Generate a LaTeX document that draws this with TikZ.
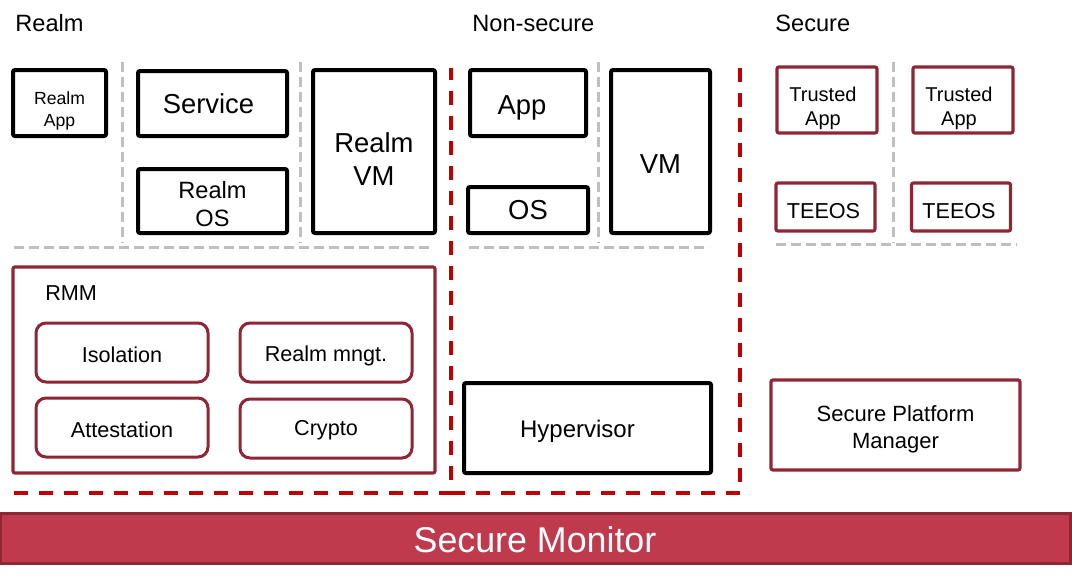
\documentclass[tikz,border=0pt]{standalone}
\usepackage{fontspec}
\setmainfont{Liberation Sans}
\usetikzlibrary{positioning}
\definecolor{boxred}{HTML}{8E2635}
\definecolor{linered}{HTML}{C00000}
\definecolor{barred}{HTML}{BE3A4C}
\definecolor{sepgray}{HTML}{BFBFBF}
\tikzset{
    %Define style for world titles
    worldtitle/.style={
           anchor=west,
           inner sep=0pt,
           font=\fontsize{11.8}{14}\selectfont},
    %Define style for normal world boxes
    blackbox/.style={
           rectangle,
           rounded corners=1pt,
           draw=black, line width=2pt,
           inner sep=0pt},
    %Define style for secure boxes
    redbox/.style={
           rectangle,
           rounded corners=1pt,
           draw=boxred, line width=1.6pt,
           inner sep=0pt},
    %Define style for RMM parts
    partbox/.style={
           rectangle,
           rounded corners=5pt,
           draw=boxred, line width=1.5pt,
           minimum width=86pt,
           minimum height=29.5pt,
           inner sep=0pt},
    %Define style for text in boxes
    boxtext/.style={
           inner sep=0pt,
           align=center},
    %Define style for the monitor bar
    monitorbar/.style={
           rectangle,
           draw=boxred, line width=1.5pt,
           fill=barred,
           inner sep=0pt},
    % Define separator styles
    sepline/.style={
           draw=sepgray,
           line width=1.5pt,
           dash pattern=on 5pt off 2.5pt},
    worldline/.style={
           draw=linered,
           line width=2pt,
           dash pattern=on 7pt off 5.5pt}
}
\begin{document}
\begin{tikzpicture}[x=0.5pt,y=-0.5pt]
\useasboundingbox (0,0) rectangle (1072,584);
% titles
\node[worldtitle] (trealm) at (15,23) {Realm};
\node[worldtitle] (tnsec) at (472,23) {Non-secure};
\node[worldtitle] (tsec) at (775,23) {Secure};
% realm world
\node[blackbox, minimum width=46.5pt, minimum height=33pt] (realmapp) at (59.5,103) {};
\node[boxtext, font=\fontsize{8.8}{10.6}\selectfont]
  (realmapptxt) at ([yshift=-4pt]realmapp.center) {Realm\\App};
\node[blackbox, minimum width=74.5pt, minimum height=32.5pt] (service) at (212.5,103.5) {};
\node[boxtext, font=\fontsize{13.7}{16}\selectfont]
  (servicetxt) at ([xshift=-2pt]service.center) {Service};
\node[blackbox, minimum width=74.5pt, minimum height=32pt] (realmos) at (212.5,201) {};
\node[boxtext, font=\fontsize{11.8}{13.6}\selectfont]
  (realmostxt) at ([yshift=-1.5pt]realmos.center) {Realm\\OS};
\node[blackbox, minimum width=61pt, minimum height=81.5pt] (realmvm) at (374,151.5) {};
\node[boxtext, font=\fontsize{13.7}{16.5}\selectfont]
  (realmvmtxt) at ([yshift=-4pt]realmvm.center) {Realm\\VM};
% non-secure world
\node[blackbox, minimum width=58pt, minimum height=33pt] (app) at (528,103) {};
\node[boxtext, font=\fontsize{13.7}{16}\selectfont]
  (apptxt) at ([xshift=-3pt,yshift=-2.5pt]app.center) {App};
\node[blackbox, minimum width=60pt, minimum height=23pt] (os) at (528,210) {};
\node[boxtext, font=\fontsize{13.7}{16}\selectfont]
  (ostxt) at (os.center) {OS};
\node[blackbox, minimum width=49.5pt, minimum height=81.5pt] (vm) at (660.5,151.5) {};
\node[boxtext, font=\fontsize{13.7}{16}\selectfont]
  (vmtxt) at ([yshift=-6.5pt]vm.center) {VM};
% secure world
\node[redbox, minimum width=50pt, minimum height=33pt] (tapp1) at (827,100) {};
\node[boxtext, font=\fontsize{10}{12}\selectfont]
  (tapp1txt) at ([xshift=-2pt,yshift=-4pt]tapp1.center) {Trusted\\App};
\node[redbox, minimum width=50pt, minimum height=33pt] (tapp2) at (963,100) {};
\node[boxtext, font=\fontsize{10}{12}\selectfont]
  (tapp2txt) at ([xshift=-2pt,yshift=-4pt]tapp2.center) {Trusted\\App};
\node[redbox, minimum width=49.5pt, minimum height=24pt] (teeos1) at (825.5,207) {};
\node[boxtext, font=\fontsize{10.8}{13}\selectfont]
  (teeos1txt) at ([xshift=-1pt,yshift=-2pt]teeos1.center) {TEEOS};
\node[redbox, minimum width=49.5pt, minimum height=24pt] (teeos2) at (961,207) {};
\node[boxtext, font=\fontsize{10.8}{13}\selectfont]
  (teeos2txt) at ([xshift=-1pt,yshift=-2pt]teeos2.center) {TEEOS};
% separators
\draw[sepline] (122,62) -- (122,243);
\draw[sepline] (300,62) -- (300,243);
\draw[sepline] (14,247) -- (433,247);
\draw[sepline] (598,62) -- (598,243);
\draw[sepline] (469,247) -- (709,247);
\draw[sepline] (893,62) -- (893,243);
\draw[sepline] (776,244) -- (1017,244);
% RMM
\node[redbox, minimum width=211pt, minimum height=103pt] (rmm) at (224,370) {};
\node[anchor=west, inner sep=0pt, font=\fontsize{10.8}{13}\selectfont]
  (rmmtxt) at (45,293) {RMM};
\foreach \name/\pos/\dy/\lbl in {isolation/{122,352.5}/1/Isolation,
    mngt/{326,352.5}/1.5/Realm mngt.,
    attest/{122,427.5}/1/Attestation,
    crypto/{326,428.5}/1/Crypto}{
  \node[partbox] (\name) at (\pos) {};
  \node[boxtext, font=\fontsize{10.8}{13}\selectfont]
    (\name txt) at ([yshift=-\dy pt]\name.center) {\lbl};
}
% hypervisor and SPM
\node[blackbox, minimum width=123.5pt, minimum height=45pt] (hyp) at (587.5,428) {};
\node[boxtext, font=\fontsize{12}{14}\selectfont]
  (hyptxt) at ([xshift=-5pt,yshift=-1.5pt]hyp.center) {Hypervisor};
\node[redbox, minimum width=124.5pt, minimum height=45pt] (spm) at (895.5,425) {};
\node[boxtext, font=\fontsize{11}{13.4}\selectfont]
  (spmtxt) at ([yshift=-2pt]spm.center) {Secure Platform\\Manager};
% world borders
\coordinate (rb) at (451,493);
\draw[worldline] (14,493) -- (rb) -- (451,68);
\draw[worldline] (rb) -- (740,493) -- (740,68);
% monitor
\node[monitorbar, minimum width=535pt, minimum height=25pt] (monitor) at (535,538) {};
\node[boxtext, text=white, font=\fontsize{17.9}{21}\selectfont]
  (monitortxt) at ([yshift=-1pt]monitor.center) {Secure Monitor};
\end{tikzpicture}
\end{document}
